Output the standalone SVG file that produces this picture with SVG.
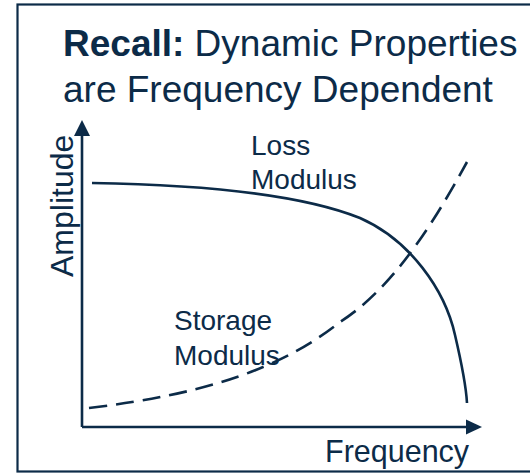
<svg xmlns="http://www.w3.org/2000/svg" width="530" height="473" viewBox="0 0 530 473">
<style>
.t{font-family:"Liberation Sans",Arial,sans-serif;fill:#0c2b48}
.ln{fill:none;stroke:#0c2b48;stroke-width:2.6}
</style>
<rect x="17.5" y="4.5" width="530" height="467" fill="#fff" stroke="#0c2b48" stroke-width="2.2"/>
<g id="title">
<text class="t" x="63" y="56" font-size="37"><tspan font-weight="bold">Recall:</tspan> Dynamic Properties</text>
<text class="t" x="63" y="101.5" font-size="37">are Frequency Dependent</text>
</g>
<g id="axes">
<line class="ln" x1="82" y1="427" x2="82" y2="132"/>
<polygon points="82,120 74,136 90,136" fill="#0c2b48"/>
<line class="ln" x1="82" y1="427" x2="468" y2="427"/>
<polygon points="482,427 466,419.5 466,434.5" fill="#0c2b48"/>
<text class="t" font-size="32" transform="translate(73,277) rotate(-90)">Amplitude</text>
<text class="t" x="325" y="462" font-size="30.5">Frequency</text>
</g>
<g id="curves">
<path class="ln" d="M92,183 C220,185 310,198 360,218 C410,240 445,290 455,335 C462,365 466,385 467,403"/>
<path class="ln" stroke-dasharray="18 9" d="M89,408 C200,395 280,370 340,322 C390,290 430,230 467,162"/>
</g>
<g id="loss-label">
<text class="t" x="251" y="155" font-size="28">Loss</text>
<text class="t" x="251" y="189" font-size="28">Modulus</text>
</g>
<g id="storage-label">
<text class="t" x="174" y="330" font-size="28">Storage</text>
<text class="t" x="174" y="365" font-size="28">Modulus</text>
</g>
</svg>
